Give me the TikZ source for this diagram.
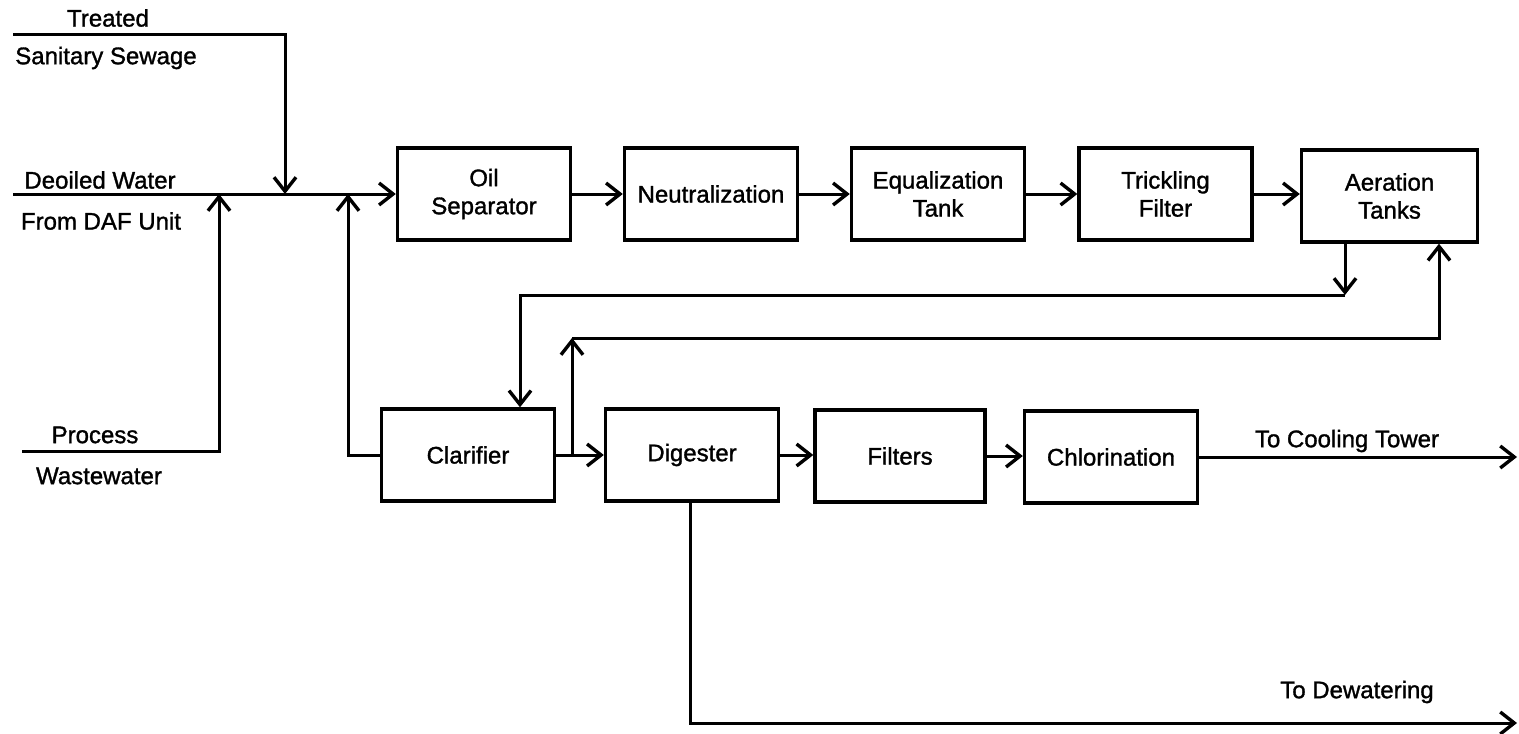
\documentclass[tikz,border=0pt]{standalone}
\usepackage{fontspec}
\setmainfont{Liberation Sans}[FakeBold=1.3]
\usetikzlibrary{arrows.meta}
\tikzset{
  box/.style={draw, line width=1.7pt, align=center, inner sep=0pt,
    minimum width=86.5pt, minimum height=46pt, font=\fontsize{12}{14}\selectfont},
  lbl/.style={inner sep=0pt, font=\fontsize{12}{14}\selectfont},
  flow/.style={line width=1.5pt, line join=miter},
  arr/.style={flow, -{Straight Barb[length=7pt, width=11pt, line width=1.7pt]}},
}
\begin{document}
\begin{tikzpicture}[x=0.5pt, y=-0.5pt]
\useasboundingbox (0,0) rectangle (1519,733);
% boxes
\node[box] (oil)   at (484,194)    {Oil\\Separator};
\node[box] (neut)  at (711,194)    {Neutralization};
\node[box] (equal) at (938,194)    {Equalization\\Tank};
\node[box] (trick) at (1165.5,194) {Trickling\\Filter};
\node[box, minimum width=88pt] (aer) at (1389.5,196) {Aeration\\Tanks};
\node[box] (clar)  at (468,455)    {Clarifier};
\node[box] (dig)   at (692,455)    {Digester};
\node[box, minimum width=85pt] (filt)  at (900,456)    {Filters};
\node[box] (chlor) at (1111,457)   {Chlorination};
% labels
\node[lbl] (lt1) at (108,18)  {Treated};
\node[lbl] (lt2) at (106,58)  {Sanitary Sewage};
\node[lbl] (ld1) at (100,180) {Deoiled Water};
\node[lbl] (ld2) at (101,221) {From DAF Unit};
\node[lbl] (lp1) at (95,435)  {Process};
\node[lbl] (lp2) at (99,476)  {Wastewater};
\node[lbl] (lct) at (1347,441) {To Cooling Tower};
\node[lbl] (ldw) at (1357,692) {To Dewatering};
% coordinates
\coordinate (tl) at (13,35);
\coordinate (tc) at (285,35);
\coordinate (j1) at (285,194);
\coordinate (d0) at (13,194);
\coordinate (p0) at (22,451);
\coordinate (pc) at (219,451);
\coordinate (j0) at (219,194);
\coordinate (j2) at (348,194);
\coordinate (a1) at (1345,295);
\coordinate (r1) at (520,295);
\coordinate (b0) at (572,455);
\coordinate (b1) at (572,338);
\coordinate (b2) at (1439,338);
\coordinate (ct) at (1517,457);
\coordinate (dw0) at (690,723);
\coordinate (dw1) at (1517,723);
% connectors
\draw[arr] (tl) -- (tc) -- (j1);
\draw[arr] (d0) -- (oil.west);
\draw[arr] (p0) -- (pc) -- (j0);
\draw[arr] (clar.west) -| (j2);
\draw[arr] (oil) -- (neut);
\draw[arr] (neut) -- (equal);
\draw[arr] (equal) -- (trick);
\draw[arr] (trick.east) -- (trick.east -| aer.west);
\draw[arr] (aer.south -| a1) -- (a1);
\draw[arr] (a1) -- (r1) -- (r1 |- clar.north);
\draw[arr] (clar) -- (dig);
\draw[arr] (b0) -- (b1);
\draw[arr] (b1) -- (b2) -- (b2 |- aer.south);
\draw[arr] (dig.east) -- (dig.east -| filt.west);
\draw[arr] (filt.east) -- (filt.east -| chlor.west);
\draw[arr] (chlor.east) -- (ct);
\draw[arr] (dig.south -| dw0) -- (dw0) -- (dw1);
\end{tikzpicture}
\end{document}
